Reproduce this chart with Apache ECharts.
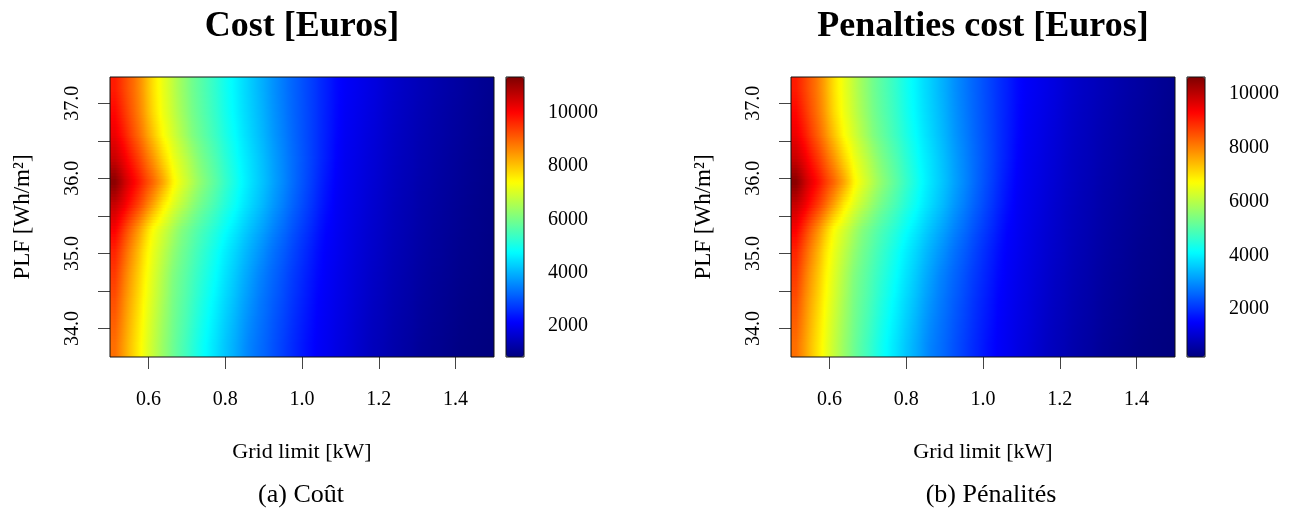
<!DOCTYPE html>
<html>
<head>
<meta charset="utf-8">
<title>Cost / Penalties</title>
<script src="https://cdn.jsdelivr.net/npm/echarts@6/dist/echarts.min.js"></script>
<style>
	html, body { margin: 0; padding: 0; background: #fff; }
	#chart { width: 1296px; height: 529px; }
</style>
</head>
<body>
<div id="chart"></div>
<script>
// grid limit [kW] : centre of each column
const gridLimit = [0.5125, 0.5375, 0.5625, 0.5875, 0.6125, 0.6375, 0.6625, 0.6875, 0.7125, 0.7375,
	0.7625, 0.7875, 0.8125, 0.8375, 0.8625, 0.8875, 0.9125, 0.9375, 0.9625, 0.9875,
	1.0125, 1.0375, 1.0625, 1.0875, 1.1125, 1.1375, 1.1625, 1.1875, 1.2125, 1.2375,
	1.2625, 1.2875, 1.3125, 1.3375, 1.3625, 1.3875, 1.4125, 1.4375, 1.4625, 1.4875];
// PLF [Wh/m2] : centre of each row, top to bottom
const plf = [37.19, 36.88, 36.57, 36.26, 35.95, 35.64, 35.33, 35.02, 34.71, 34.40, 34.09, 33.78];

// cost [Euros], one row per plf value (top to bottom)
const costGrid = [
	[9760, 9330, 8900, 8350, 7720, 7190, 6770, 6350, 5970, 5680, 5390, 5090, 4800, 4540, 4290, 4030, 3780, 3530, 3300, 3090, 2870, 2660, 2450, 2230, 2080, 1990, 1900, 1810, 1700, 1610, 1530, 1460, 1390, 1330, 1270, 1210, 1160, 1100, 1050, 1000],
	[9980, 9490, 8990, 8430, 7790, 7240, 6830, 6410, 6020, 5720, 5430, 5130, 4830, 4570, 4320, 4070, 3810, 3560, 3320, 3100, 2880, 2660, 2440, 2220, 2050, 1960, 1870, 1780, 1670, 1580, 1500, 1430, 1360, 1300, 1240, 1180, 1130, 1080, 1030, 980],
	[10220, 9760, 9210, 8660, 8040, 7410, 6990, 6570, 6140, 5830, 5520, 5220, 4920, 4640, 4380, 4120, 3860, 3600, 3360, 3120, 2890, 2660, 2430, 2200, 2020, 1930, 1830, 1740, 1640, 1550, 1470, 1400, 1330, 1270, 1220, 1160, 1110, 1060, 1010, 970],
	[10600, 10170, 9650, 9100, 8520, 7860, 7280, 6870, 6460, 6050, 5720, 5390, 5060, 4740, 4480, 4210, 3940, 3670, 3410, 3160, 2910, 2660, 2410, 2160, 1990, 1900, 1800, 1710, 1610, 1520, 1440, 1380, 1300, 1250, 1190, 1130, 1080, 1030, 990, 950],
	[11250, 10580, 10070, 9530, 8990, 8340, 7570, 7080, 6660, 6240, 5870, 5520, 5170, 4820, 4530, 4250, 3980, 3700, 3430, 3150, 2880, 2610, 2340, 2110, 1970, 1870, 1770, 1680, 1580, 1490, 1410, 1350, 1270, 1220, 1160, 1110, 1060, 1010, 970, 930],
	[10600, 10170, 9610, 9020, 8350, 7620, 7110, 6700, 6290, 5930, 5620, 5300, 4990, 4690, 4410, 4140, 3860, 3590, 3320, 3060, 2790, 2530, 2270, 2060, 1940, 1840, 1740, 1640, 1550, 1460, 1380, 1320, 1240, 1190, 1140, 1080, 1030, 990, 950, 920],
	[10100, 9440, 8780, 8090, 7390, 6970, 6550, 6130, 5830, 5540, 5260, 4970, 4690, 4430, 4160, 3900, 3640, 3380, 3140, 2890, 2650, 2400, 2160, 2030, 1910, 1800, 1700, 1610, 1520, 1430, 1360, 1290, 1220, 1160, 1110, 1060, 1010, 970, 940, 900],
	[9670, 9030, 8390, 7730, 7180, 6740, 6300, 5940, 5640, 5340, 5040, 4740, 4480, 4220, 3950, 3690, 3430, 3200, 2980, 2750, 2520, 2290, 2100, 2000, 1880, 1770, 1670, 1580, 1490, 1400, 1330, 1260, 1190, 1130, 1090, 1030, 980, 950, 920, 890],
	[9440, 8780, 8180, 7580, 7070, 6600, 6130, 5820, 5520, 5220, 4920, 4630, 4360, 4080, 3810, 3530, 3300, 3090, 2870, 2660, 2440, 2230, 2070, 1960, 1850, 1740, 1640, 1540, 1460, 1370, 1300, 1230, 1160, 1100, 1060, 1010, 960, 930, 900, 870],
	[9240, 8610, 8040, 7460, 6980, 6510, 6050, 5740, 5430, 5110, 4800, 4520, 4250, 3970, 3700, 3430, 3220, 3010, 2800, 2590, 2380, 2170, 2040, 1930, 1830, 1710, 1610, 1510, 1430, 1340, 1270, 1210, 1130, 1080, 1030, 980, 930, 900, 880, 850],
	[9060, 8480, 7910, 7350, 6880, 6410, 5990, 5660, 5330, 5000, 4690, 4410, 4140, 3860, 3590, 3350, 3150, 2940, 2740, 2530, 2330, 2130, 2010, 1900, 1800, 1680, 1570, 1470, 1400, 1310, 1240, 1180, 1100, 1050, 1010, 960, 910, 880, 860, 840],
	[8890, 8360, 7810, 7280, 6810, 6340, 5930, 5580, 5240, 4900, 4600, 4320, 4050, 3780, 3500, 3290, 3090, 2880, 2680, 2480, 2270, 2100, 1990, 1870, 1770, 1650, 1540, 1440, 1370, 1280, 1210, 1150, 1070, 1020, 980, 930, 880, 860, 840, 820]
];

// penalties cost [Euros], same layout
const penaltyGrid = [
	[9060, 8640, 8210, 7670, 7040, 6520, 6100, 5690, 5310, 5020, 4740, 4440, 4150, 3890, 3650, 3390, 3140, 2890, 2670, 2460, 2240, 2030, 1830, 1610, 1460, 1370, 1280, 1190, 1080, 990, 910, 850, 780, 720, 660, 600, 550, 490, 440, 390],
	[9280, 8800, 8300, 7750, 7110, 6570, 6160, 5750, 5360, 5060, 4780, 4480, 4180, 3920, 3680, 3430, 3170, 2920, 2690, 2470, 2250, 2030, 1820, 1600, 1430, 1340, 1250, 1160, 1050, 960, 880, 820, 750, 690, 630, 570, 520, 470, 420, 370],
	[9520, 9060, 8520, 7970, 7360, 6740, 6320, 5900, 5480, 5170, 4860, 4570, 4270, 3990, 3740, 3480, 3220, 2960, 2730, 2490, 2260, 2030, 1810, 1580, 1400, 1310, 1210, 1120, 1020, 930, 860, 790, 720, 660, 610, 550, 500, 450, 400, 360],
	[9890, 9470, 8950, 8410, 7830, 7180, 6610, 6200, 5790, 5390, 5060, 4740, 4410, 4090, 3840, 3570, 3300, 3030, 2780, 2530, 2280, 2030, 1790, 1540, 1370, 1280, 1180, 1090, 990, 900, 830, 770, 690, 640, 580, 520, 470, 420, 380, 340],
	[10540, 9870, 9370, 8830, 8300, 7660, 6890, 6410, 5990, 5580, 5210, 4860, 4520, 4170, 3880, 3610, 3340, 3060, 2800, 2520, 2250, 1980, 1720, 1490, 1350, 1250, 1150, 1060, 960, 880, 800, 740, 660, 610, 550, 500, 450, 400, 360, 320],
	[9890, 9470, 8910, 8330, 7670, 6940, 6440, 6030, 5630, 5270, 4960, 4650, 4340, 4040, 3770, 3500, 3220, 2950, 2690, 2430, 2160, 1900, 1650, 1440, 1320, 1220, 1120, 1020, 930, 850, 770, 710, 630, 580, 530, 470, 420, 380, 340, 310],
	[9400, 8750, 8090, 7410, 6720, 6300, 5880, 5470, 5170, 4880, 4610, 4320, 4040, 3790, 3520, 3260, 3000, 2750, 2510, 2260, 2020, 1780, 1540, 1410, 1290, 1180, 1080, 990, 900, 820, 750, 680, 610, 550, 500, 450, 400, 360, 330, 290],
	[8970, 8340, 7710, 7050, 6510, 6070, 5640, 5280, 4980, 4690, 4390, 4090, 3840, 3580, 3310, 3050, 2800, 2570, 2350, 2120, 1890, 1670, 1480, 1380, 1260, 1150, 1050, 960, 880, 790, 720, 650, 580, 520, 480, 420, 370, 340, 310, 280],
	[8750, 8090, 7500, 6900, 6400, 5930, 5470, 5160, 4860, 4570, 4270, 3980, 3720, 3440, 3170, 2890, 2670, 2460, 2240, 2030, 1820, 1610, 1450, 1340, 1230, 1120, 1020, 920, 850, 760, 690, 620, 550, 490, 450, 400, 350, 320, 290, 260],
	[8550, 7920, 7360, 6790, 6310, 5840, 5390, 5080, 4780, 4460, 4150, 3870, 3610, 3330, 3060, 2800, 2590, 2380, 2170, 1960, 1760, 1550, 1420, 1310, 1210, 1090, 990, 890, 820, 730, 660, 600, 520, 470, 420, 370, 320, 290, 270, 240],
	[8370, 7800, 7230, 6680, 6210, 5750, 5330, 5000, 4680, 4350, 4040, 3770, 3500, 3220, 2950, 2720, 2520, 2310, 2110, 1900, 1710, 1510, 1390, 1280, 1180, 1060, 950, 860, 790, 700, 630, 570, 490, 440, 400, 350, 300, 270, 250, 230],
	[8200, 7680, 7130, 6610, 6140, 5680, 5270, 4920, 4590, 4250, 3950, 3680, 3410, 3140, 2860, 2660, 2460, 2250, 2050, 1860, 1650, 1480, 1370, 1250, 1150, 1030, 920, 830, 760, 670, 600, 540, 460, 410, 370, 320, 270, 250, 230, 214]
];

// colour scale ranges and tick labels
const costRange = [820, 11350];
const penaltyRange = [214, 10633];
const colorTicks = [2000, 4000, 6000, 8000, 10000];
const xTicks = [0.6, 0.8, 1.0, 1.2, 1.4];
const yTicks = [34, 34.5, 35, 35.5, 36, 36.5, 37];
const yLabels = [34, 35, 36, 37];
const xRange = [0.5, 1.5];
const plfRange = [33.62, 37.35];

// jet palette
const jet = ['#00007F', '#0000FF', '#007FFF', '#00FFFF', '#7FFF7F', '#FFFF00', '#FF7F00', '#FF0000', '#7F0000'];

const FONT = 'Liberation Serif';
const SUB = 8; // horizontal strips per cell

// cell borders (half way between centres)
function edges(centres, lo, hi) {
	const e = [lo];
	for (let i = 1; i < centres.length; i++) e.push((centres[i - 1] + centres[i]) / 2);
	e.push(hi);
	return e;
}
const xEdges = edges(gridLimit, xRange[0], xRange[1]);
const yEdges = edges(plf, plfRange[1], plfRange[0]); // top to bottom

function toCells(rows) {
	const cells = [];
	rows.forEach((row, r) => {
		row.forEach((v, c) => cells.push([gridLimit[c], plf[r], v, c, r]));
	});
	return cells;
}

// each cell is shaded toward its neighbours, like the smoothed image
function cellRenderer(rows, range) {
	const nr = rows.length, nc = rows[0].length;
	const clampR = i => Math.max(0, Math.min(nr - 1, i));
	const clampC = i => Math.max(0, Math.min(nc - 1, i));
	const colorOf = v => echarts.color.lerp(Math.max(0, Math.min(1, (v - range[0]) / (range[1] - range[0]))), jet);
	return function (params, api) {
		const c = api.value(3);
		const r = api.value(4);
		const p0 = api.coord([xEdges[c], yEdges[r]]);
		const p1 = api.coord([xEdges[c + 1], yEdges[r + 1]]);
		const x0 = Math.round(p0[0]);
		const x1 = Math.round(p1[0]);
		const h = (p1[1] - p0[1]) / SUB;
		const children = [];
		for (let k = 0; k < SUB; k++) {
			const y0 = Math.round(p0[1] + k * h);
			const y1 = Math.round(p0[1] + (k + 1) * h);
			if (y1 <= y0) continue;
			const dy = (k + 0.5) / SUB - 0.5;
			const rn = clampR(dy < 0 ? r - 1 : r + 1);
			const w = Math.abs(dy);
			const val = cc => rows[r][clampC(cc)] * (1 - w) + rows[rn][clampC(cc)] * w;
			const vl = (val(c - 1) + val(c)) / 2;
			const vm = val(c);
			const vr = (val(c) + val(c + 1)) / 2;
			children.push({
				type: 'rect',
				shape: { x: x0, y: y0, width: x1 - x0, height: y1 - y0 },
				style: {
					fill: new echarts.graphic.LinearGradient(0, 0, 1, 0, [
						{ offset: 0, color: colorOf(vl) },
						{ offset: 0.25, color: colorOf((vl + vm) / 2) },
						{ offset: 0.5, color: colorOf(vm) },
						{ offset: 0.75, color: colorOf((vm + vr) / 2) },
						{ offset: 1, color: colorOf(vr) }
					])
				}
			});
		}
		return { type: 'group', children: children };
	};
}

// one panel = plot grid + colour bar grid
function panel(left, barLeft) {
	return [
		{ left: left, top: 77, width: 384, height: 280, show: true, z: 10, backgroundColor: 'transparent', borderColor: '#111', borderWidth: 1 },
		{ left: barLeft, top: 77, width: 18, height: 280, show: true, z: 10, backgroundColor: 'transparent', borderColor: '#111', borderWidth: 1 }
	];
}

const tickStyle = { color: '#444', width: 1 };
const labelStyle = { fontFamily: FONT, fontSize: 20, color: '#000' };

function xAxes(gi) {
	return [
		{
			type: 'value', gridIndex: gi, min: xRange[0], max: xRange[1], position: 'bottom',
			axisLine: { show: false },
			splitLine: { show: false },
			axisTick: { show: true, length: 12, lineStyle: tickStyle, customValues: xTicks },
			axisLabel: Object.assign({ margin: 33, customValues: xTicks, formatter: v => v.toFixed(1) }, labelStyle),
			name: 'Grid limit [kW]', nameLocation: 'middle', nameGap: 84,
			nameTextStyle: { fontFamily: FONT, fontSize: 22, color: '#000' }
		},
		{ type: 'value', gridIndex: gi + 1, show: false }
	];
}

function yAxes(gi, range) {
	return [
		{
			type: 'value', gridIndex: gi, min: plfRange[0], max: plfRange[1], position: 'left',
			axisLine: { show: false },
			splitLine: { show: false },
			axisTick: { show: true, length: 12, lineStyle: tickStyle, customValues: yTicks },
			axisLabel: Object.assign({ margin: 27, rotate: 90, customValues: yLabels, formatter: v => v.toFixed(1) }, labelStyle),
			name: 'PLF [Wh/m²]', nameLocation: 'middle', nameGap: 76, nameRotate: 90,
			nameTextStyle: { fontFamily: FONT, fontSize: 23, color: '#000' }
		},
		{
			type: 'value', gridIndex: gi + 1, min: range[0], max: range[1], position: 'right',
			axisLine: { show: false },
			splitLine: { show: false },
			axisTick: { show: true, length: 12, lineStyle: tickStyle, customValues: colorTicks },
			axisLabel: Object.assign({ margin: 24, customValues: colorTicks, formatter: v => String(v) }, labelStyle)
		}
	];
}

const chart = echarts.init(document.getElementById('chart'));

chart.setOption({
	animation: false,
	backgroundColor: '#fff',
	title: [
		{ text: 'Cost [Euros]', left: 302, top: 9, textAlign: 'center', padding: 0,
			textStyle: { fontFamily: FONT, fontSize: 36, fontWeight: 'bold', color: '#000' } },
		{ text: 'Penalties cost [Euros]', left: 983, top: 9, textAlign: 'center', padding: 0,
			textStyle: { fontFamily: FONT, fontSize: 36, fontWeight: 'bold', color: '#000' } },
		{ text: '(a) Coût', left: 301, top: 482, textAlign: 'center', padding: 0,
			textStyle: { fontFamily: FONT, fontSize: 26, fontWeight: 'normal', color: '#000' } },
		{ text: '(b) Pénalités', left: 991, top: 482, textAlign: 'center', padding: 0,
			textStyle: { fontFamily: FONT, fontSize: 26, fontWeight: 'normal', color: '#000' } }
	],
	grid: panel(110, 506).concat(panel(791, 1187)),
	xAxis: xAxes(0).concat(xAxes(2)),
	yAxis: yAxes(0, costRange).concat(yAxes(2, penaltyRange)),
	visualMap: [
		{
			type: 'continuous', seriesIndex: 0, dimension: 2, min: costRange[0], max: costRange[1],
			calculable: false, orient: 'vertical', left: 506, top: 77, padding: 0,
			itemWidth: 18, itemHeight: 280, inRange: { color: jet }
		},
		{
			type: 'continuous', seriesIndex: 1, dimension: 2, min: penaltyRange[0], max: penaltyRange[1],
			calculable: false, orient: 'vertical', left: 1187, top: 77, padding: 0,
			itemWidth: 18, itemHeight: 280, inRange: { color: jet }
		}
	],
	series: [
		{
			name: 'Cost', type: 'custom', xAxisIndex: 0, yAxisIndex: 0, clip: true,
			encode: { x: 0, y: 1 }, silent: true,
			renderItem: cellRenderer(costGrid, costRange),
			data: toCells(costGrid)
		},
		{
			name: 'Penalties cost', type: 'custom', xAxisIndex: 2, yAxisIndex: 2, clip: true,
			encode: { x: 0, y: 1 }, silent: true,
			renderItem: cellRenderer(penaltyGrid, penaltyRange),
			data: toCells(penaltyGrid)
		}
	]
});
</script>
</body>
</html>
